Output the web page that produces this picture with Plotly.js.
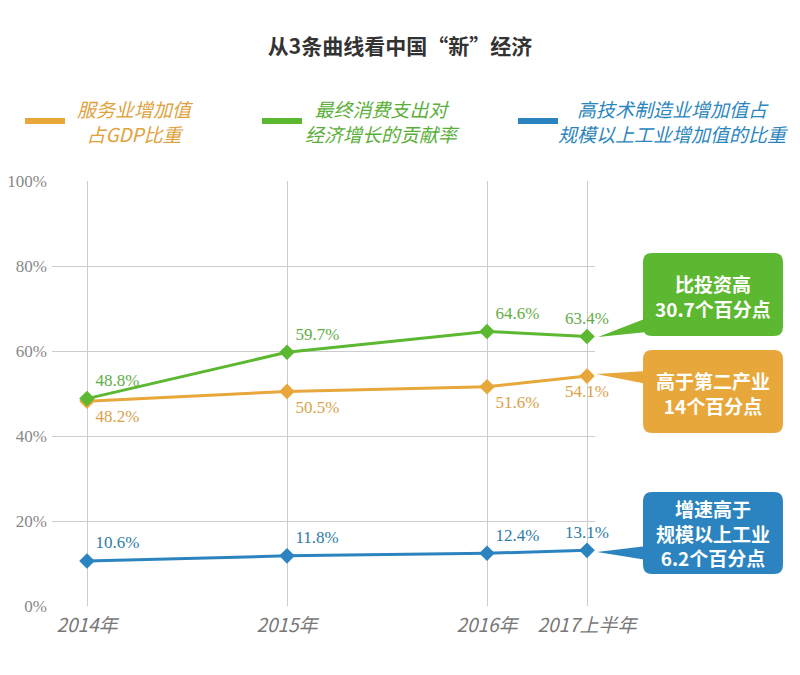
<!DOCTYPE html>
<html><head><meta charset="utf-8">
<script src="https://cdn.plot.ly/plotly-3.0.1.min.js"></script>
<style>html,body{margin:0;padding:0;background:#fff}#chart{width:800px;height:675px}</style>
</head><body><div id="chart"></div>
<script>
// ---- data ----
const periods = [2014, 2015, 2016, 2016.5];
const periodLabels = ["2014年", "2015年", "2016年", "2017上半年"];
const serviceShare = [48.2, 50.5, 51.6, 54.1];      // 服务业增加值占GDP比重
const consumptionContrib = [48.8, 59.7, 64.6, 63.4]; // 最终消费支出对经济增长的贡献率
const hightechShare = [10.6, 11.8, 12.4, 13.1];      // 高技术制造业增加值占规模以上工业增加值的比重
const yTicks = [0, 20, 40, 60, 80, 100];
const yTickLabels = ["0%", "20%", "40%", "60%", "80%", "100%"];

const ORANGE = "#E8A73A", GREEN = "#5DB831", BLUE = "#2B84C0";
const CJK = "'Noto Sans CJK SC', 'Noto Sans', sans-serif";
const SERIF = "'Liberation Serif', 'DejaVu Serif', serif";

const fmt = a => a.map(v => v.toFixed(1) + "%");

function series(vals, color, txtColor, positions) {
  return {
    x: periods, y: vals, type: "scatter", mode: "lines+markers+text",
    line: {color: color, width: 3},
    marker: {symbol: "diamond", size: 12, color: color},
    text: fmt(vals), textposition: positions,
    textfont: {family: SERIF, size: 17, color: txtColor},
    hoverinfo: "skip", cliponaxis: false, showlegend: false
  };
}

const data = [
  series(serviceShare, ORANGE, "#D9A24A", ["bottom right","bottom right","bottom right","bottom center"]),
  series(consumptionContrib, GREEN, "#62AE45", ["top right","top right","top right","top center"]),
  series(hightechShare, BLUE, "#2E7CA8", ["top right","top right","top right","top center"])
];

// ---- geometry helpers (pixel -> paper) ----
const L = 52, R = 595, T = 181, B = 606;
const PX = x => (x - L) / (R - L);
const PY = y => (B - y) / (B - T);
function pt(x, y) { return PX(x).toFixed(4) + "," + PY(y).toFixed(4); }
function roundRect(x0, y0, x1, y1, r) {
  return "M" + pt(x0 + r, y0) + " L" + pt(x1 - r, y0) + " Q" + pt(x1, y0) + " " + pt(x1, y0 + r) +
    " L" + pt(x1, y1 - r) + " Q" + pt(x1, y1) + " " + pt(x1 - r, y1) +
    " L" + pt(x0 + r, y1) + " Q" + pt(x0, y1) + " " + pt(x0, y1 - r) +
    " L" + pt(x0, y0 + r) + " Q" + pt(x0, y0) + " " + pt(x0 + r, y0) + " Z";
}
function tri(a, b, c) { return "M" + pt(a[0], a[1]) + " L" + pt(b[0], b[1]) + " L" + pt(c[0], c[1]) + " Z"; }

const shapes = [];
function callout(color, x0, y0, x1, y1, tip, b1, b2) {
  shapes.push({type: "path", xref: "paper", yref: "paper", path: roundRect(x0, y0, x1, y1, 9),
    fillcolor: color, line: {width: 0}, layer: "above"});
  shapes.push({type: "path", xref: "paper", yref: "paper", path: tri(tip, [x0 + 4, b1], [x0 + 4, b2]),
    fillcolor: color, line: {width: 0}, layer: "above"});
}
callout(GREEN, 643, 253, 783, 336, [598, 337], 318, 332);
callout(ORANGE, 643, 350, 783, 433, [596, 374], 371, 384);
callout(BLUE, 643, 492, 783, 574, [597, 552], 546, 560);

// legend bars
function legendBar(color, x0, x1, y) {
  shapes.push({type: "line", xref: "paper", yref: "paper", x0: PX(x0), x1: PX(x1), y0: PY(y), y1: PY(y),
    line: {color: color, width: 6}});
}
legendBar(ORANGE, 25, 65, 121);
legendBar(GREEN, 262, 302, 121);
legendBar(BLUE, 518, 558, 121);

const annotations = [];
function txt(text, x, y, size, color, extra) {
  annotations.push(Object.assign({text: text, xref: "paper", yref: "paper", x: PX(x), y: PY(y),
    xanchor: "center", yanchor: "middle", showarrow: false,
    font: {family: CJK, size: size, color: color}}, extra || {}));
}
// legend text
txt("服务业增加值<br>占GDP比重", 135, 121, 19, "#E0A23C", {font: {family: CJK, size: 19, color: "#E0A23C", style: "italic"}});
txt("最终消费支出对<br>经济增长的贡献率", 382, 121, 19, "#5AAF3A", {font: {family: CJK, size: 19, color: "#5AAF3A", style: "italic"}});
txt("高技术制造业增加值占<br>规模以上工业增加值的比重", 673, 121, 19, "#2C86BE", {font: {family: CJK, size: 19, color: "#2C86BE", style: "italic"}});
// callout text
txt("<b>比投资高<br>30.7个百分点</b>", 713, 296, 19, "#ffffff");
txt("<b>高于第二产业<br>14个百分点</b>", 713, 393, 19, "#ffffff");
txt("<b>增速高于<br>规模以上工业<br>6.2个百分点</b>", 713, 533, 19, "#ffffff");

const layout = {
  width: 800, height: 675,
  margin: {l: L, r: 800 - R, t: T, b: 675 - B},
  paper_bgcolor: "#ffffff", plot_bgcolor: "#ffffff",
  title: {text: "<b>从3条曲线看中国“新”经济</b>", x: 0.5, xref: "container", xanchor: "center",
    y: 1 - 47 / 675, yref: "container", yanchor: "middle",
    font: {family: CJK, size: 21, color: "#333333"}},
  xaxis: {type: "linear", range: [2013.825, 2016.54], tickvals: periods, ticktext: periodLabels,
    showgrid: true, gridcolor: "#cccccc", gridwidth: 1, zeroline: false, showline: false,
    ticks: "", ticklabelstandoff: 6, fixedrange: true,
    tickfont: {family: CJK, size: 19, color: "#777777", style: "italic"}},
  yaxis: {range: [0, 100], tickvals: yTicks, ticktext: yTickLabels,
    showgrid: true, gridcolor: "#cccccc", gridwidth: 1, zeroline: false, showline: false,
    ticks: "", ticklabelstandoff: 4, fixedrange: true,
    tickfont: {family: SERIF, size: 17, color: "#888888"}},
  shapes: shapes, annotations: annotations, showlegend: false
};

Plotly.newPlot("chart", data, layout, {displayModeBar: false, staticPlot: true});
</script></body></html>
